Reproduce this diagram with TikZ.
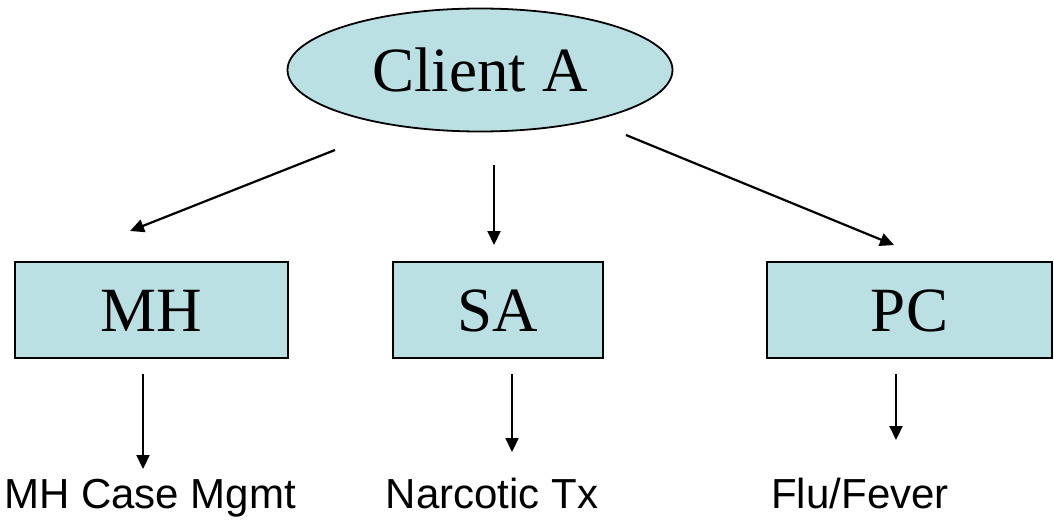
\documentclass[tikz,border=0pt]{standalone}
\usepackage{fontspec}
\setmainfont{Liberation Serif}
\setsansfont{Liberation Sans}
\usetikzlibrary{shapes.geometric,arrows.meta,positioning}
\definecolor{boxblue}{RGB}{187,224,227}
\begin{document}
\begin{tikzpicture}
[x=1pt,y=-1pt,>={Triangle[length=14pt,width=13pt]},
client/.style = {draw, ellipse, fill = boxblue, line width = 1.8pt, minimum width = 385pt, minimum height = 123pt, inner sep = 0pt, font = \fontsize{63}{70}\selectfont, text height = 43pt, text depth = 0pt},
unit/.style = {draw, rectangle, fill = boxblue, line width = 1.8pt, minimum height = 96pt, inner sep = 0pt, font = \fontsize{63}{70}\selectfont, text height = 43pt, text depth = 0pt},
service/.style = {anchor = base, inner sep = 0pt, font = \sffamily\fontsize{42}{48}\selectfont},
link/.style = {->, line width = 2.2pt},]
\useasboundingbox (0,0) rectangle (1054,519);
\node (C) at (480,70)[client] {Client A};
\node (MH) at (151.5,310)[unit,minimum width = 273pt] {MH};
\node (SA) at (498,310)[unit,minimum width = 210pt] {SA};
\node (PC) at (909.5,310)[unit,minimum width = 285pt] {PC};
\node (MHT) at (150,508)[service] {MH Case Mgmt};
\node (SAT) at (492,508)[service] {Narcotic Tx};
\node (PCT) at (860,508)[service] {Flu/Fever};
\coordinate (c1) at (335,150);
\coordinate (c2) at (494,165);
\coordinate (c3) at (626,135);
\coordinate (m1) at (130,231);
\coordinate (s1) at (494,245);
\coordinate (p1) at (894,245);
\coordinate (m2) at (143,374);
\coordinate (m3) at (143,469);
\coordinate (s2) at (512,374);
\coordinate (s3) at (512,452);
\coordinate (p2) at (896,374);
\coordinate (p3) at (896,440);
\draw[link] (c1)--(m1);
\draw[link] (c2)--(s1);
\draw[link] (c3)--(p1);
\draw[link] (m2)--(m3);
\draw[link] (s2)--(s3);
\draw[link] (p2)--(p3);
\end{tikzpicture}
\end{document}
